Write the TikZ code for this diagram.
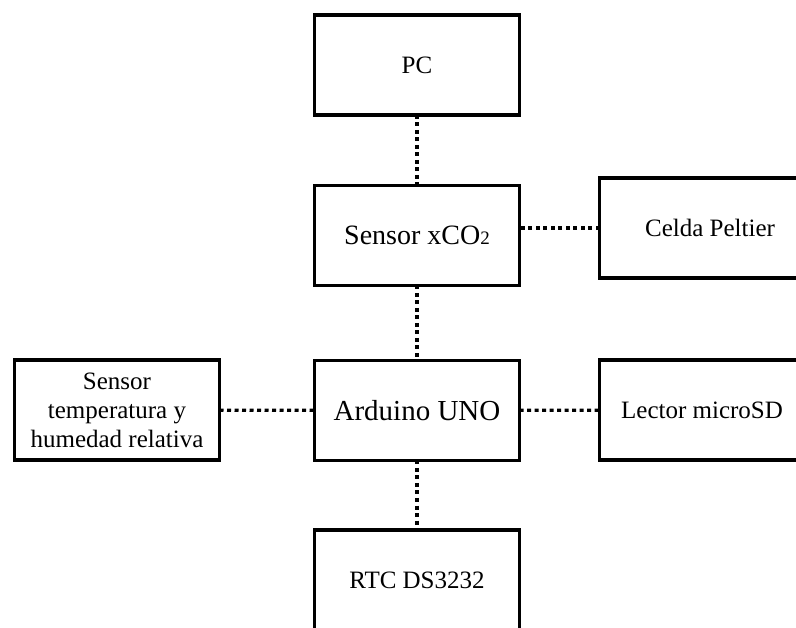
\documentclass[tikz,border=0pt]{standalone}
\usepackage{fontspec}
\setmainfont{Liberation Serif}
\begin{document}
\begin{tikzpicture}[x=1pt,y=-1pt,
    bloque/.style={draw,line width=3.8pt,minimum width=205pt,minimum height=100pt,
      inner sep=0pt,outer sep=0pt,align=center,font=\fontsize{25}{29}\selectfont},
    enlace/.style={line width=3.2pt,dash pattern=on 4pt off 3.5pt}]
    \clip (0,0) rectangle (796,628);
    \node[bloque] (pc) at (417,65) {PC};
    \node[bloque,font=\fontsize{28}{32}\selectfont] (sensor) at (417,235.5) {Sensor xCO{\fontsize{19}{19}\selectfont 2}};
    \node[bloque,minimum width=221pt] (celda) at (710,228) {Celda Peltier};
    \node[bloque,font=\fontsize{29}{33}\selectfont] (arduino) at (417,410.5) {Arduino UNO};
    \node[bloque] (th) at (117,410) {Sensor\\temperatura y\\humedad relativa};
    \node[bloque] (lector) at (702,410) {Lector microSD};
    \node[bloque] (rtc) at (417,580) {RTC DS3232};
    \draw[enlace] (pc) -- (sensor);
    \draw[enlace] (celda.west) -- (celda.west -| sensor.east);
    \draw[enlace] (sensor) -- (arduino);
    \draw[enlace] (th) -- (arduino);
    \draw[enlace] (arduino) -- (lector);
    \draw[enlace] (arduino) -- (rtc);
\end{tikzpicture}
\end{document}
